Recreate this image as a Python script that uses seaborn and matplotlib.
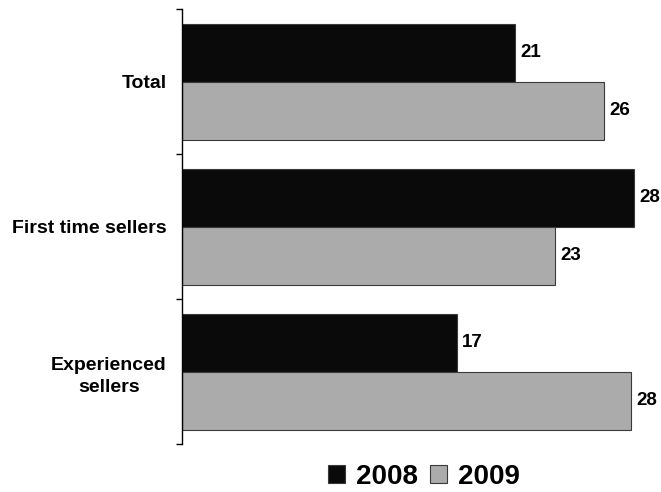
import matplotlib
matplotlib.use("Agg")
import matplotlib.pyplot as plt
import seaborn as sns
import pandas as pd
import numpy as np
from matplotlib.patches import Patch

categories = ["Total", "First time sellers", "Experienced\nsellers"]
years = ["2008", "2009"]
values_2008 = [20.6, 27.95, 17.0]
values_2009 = [26.1, 23.1, 27.8]

df = pd.DataFrame({
    "category": categories * 2,
    "year": [years[0]] * 3 + [years[1]] * 3,
    "value": values_2008 + values_2009,
})

sns.set_theme(style="white")
plt.rcParams['font.family'] = ['Liberation Sans', 'DejaVu Sans']
plt.rcParams['text.color'] = 'black'
plt.rcParams['ytick.color'] = 'black'
plt.rcParams['ytick.labelcolor'] = 'black'

W, H = 661, 492
fig = plt.figure(figsize=(W / 100, H / 100), dpi=100)
left_px, right_px, top_px, bot_px = 182, 182 + 29 * 16.16, 9, 444
ax = fig.add_axes([left_px / W, 1 - bot_px / H, (right_px - left_px) / W, (bot_px - top_px) / H])

palette = {"2008": "#0A0A0A", "2009": "#ABABAB"}
sns.barplot(data=df, y="category", x="value", hue="year", order=categories,
            hue_order=years, palette=palette, orient="h", ax=ax,
            edgecolor="#3a3a3a", linewidth=0.8, saturation=1, legend=False)

ax.set_xlim(0, 29)
ax.set_ylim(2.5, -0.5)
ax.set_xlabel("")
ax.set_ylabel("")
for s in ["top", "right", "bottom"]:
    ax.spines[s].set_visible(False)
ax.spines["left"].set_color("black")
ax.spines["left"].set_linewidth(1.0)
ax.set_xticks([])
ax.set_yticks(range(len(categories)))
ax.set_yticklabels(categories, fontsize=14, fontweight="bold", multialignment="center",
                   color="black", linespacing=1.45)
ax.tick_params(axis="y", which="major", left=True, length=0, pad=11)
ax.set_yticks([-0.5, 0.5, 1.5, 2.5], minor=True)
ax.tick_params(axis="y", which="minor", left=True, length=4.5, width=1, color="black",
               direction="out")

for container in ax.containers:
    ax.bar_label(container, fmt="%.0f", padding=4, fontsize=13.5, fontweight="bold",
                 color="black", clip_on=False)

handles = [Patch(facecolor=palette[y], edgecolor="#3a3a3a", linewidth=0.8) for y in years]
fig.legend(handles, years, loc="center", bbox_to_anchor=(424 / W, 1 - 477 / H), ncol=2,
           frameon=False, prop={"weight": "bold", "size": 20}, handlelength=0.6,
           handleheight=0.6, handletextpad=0.4, columnspacing=0.45, labelcolor="black")

fig.savefig("out.png", dpi=100)
